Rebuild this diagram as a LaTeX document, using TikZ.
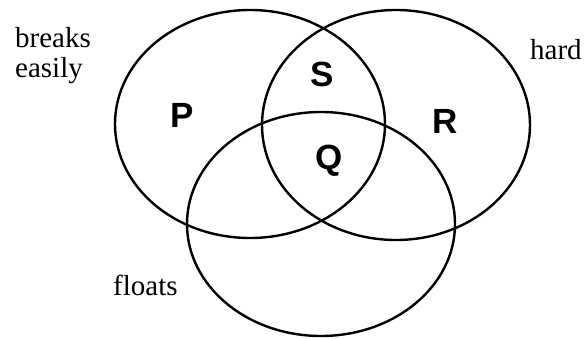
\documentclass[tikz,border=0pt]{standalone}
\usepackage{fontspec}
\setmainfont{Liberation Serif}
\newfontfamily\letterfont{Liberation Sans}
\usetikzlibrary{shapes.geometric}
\begin{document}
\begin{tikzpicture}[x=1pt,y=1pt,
  setring/.style={draw=black, line width=2.4pt, ellipse, inner sep=0pt},
  lbl/.style={font=\fontsize{29}{29}\selectfont, inner sep=0pt, anchor=base west},
  region/.style={font=\letterfont\bfseries\fontsize{35}{35}\selectfont, inner sep=0pt}]
\useasboundingbox (0,0) rectangle (588,338);
\fill[white] (0,0) rectangle (588,338);
\node[setring, minimum width=270pt, minimum height=228pt] (left) at (250,214) {};
\node[setring, minimum width=268pt, minimum height=230pt] (right) at (396,213) {};
\node[setring, minimum width=268pt, minimum height=224pt] (bottom) at (321,114) {};
\node[lbl] (breaks) at (15,290) {breaks};
\node[lbl] (easily) at (15,260) {easily};
\node[lbl] (hard) at (530,278) {hard};
\node[lbl] (floats) at (113,43) {floats};
\node[region] (P) at (182,223) {P};
\node[region] (S) at (322,264) {S};
\node[region] (R) at (445,217) {R};
\node[region] (Q) at (329,177) {Q};
\end{tikzpicture}
\end{document}
